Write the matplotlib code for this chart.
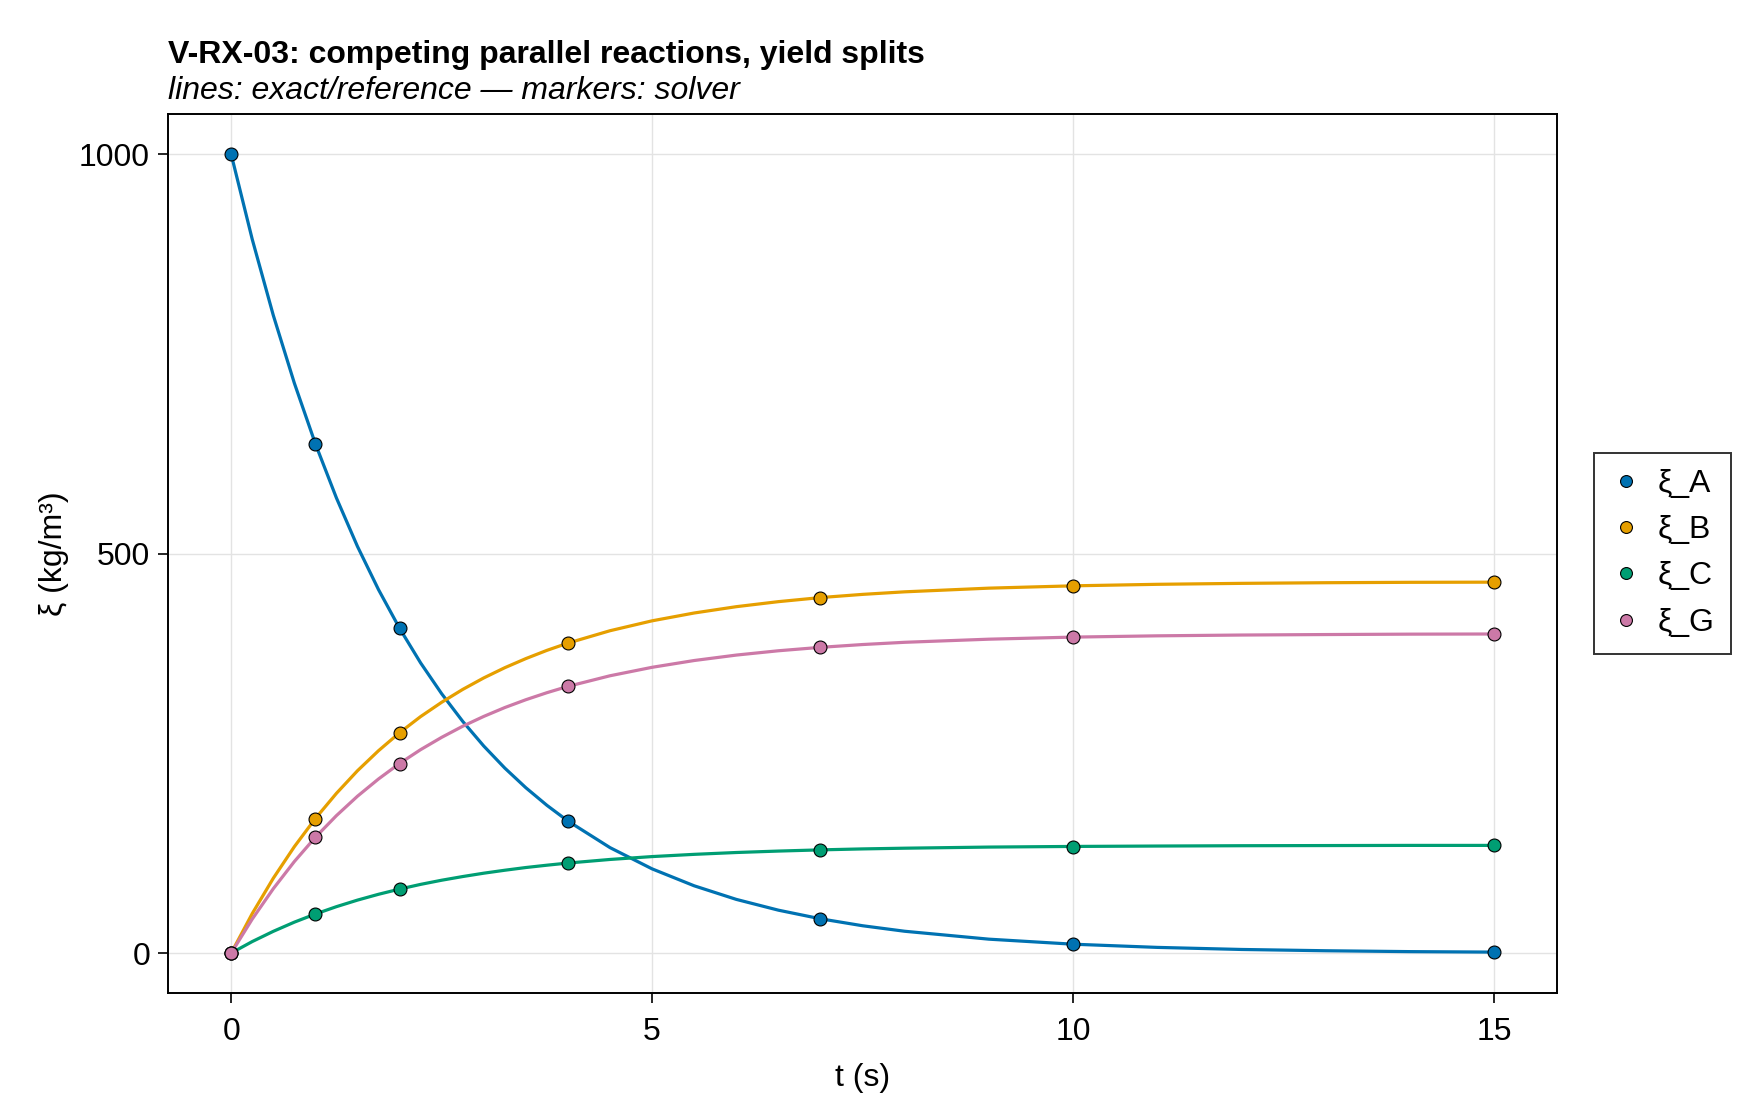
import matplotlib
matplotlib.use('Agg')
from matplotlib import pyplot as plt

###############################################################################
# Data #
t_line = [0, 0.25, 0.5, 0.75, 1, 1.25, 1.5, 1.75, 2, 2.25, 2.5, 2.75, 3, 3.25,
          3.5, 3.75, 4, 4.5, 5, 5.5, 6, 6.5, 7, 7.5, 8, 9, 10, 11, 12, 13, 14,
          15]
a_line = [1000, 893.6, 798.5, 713.6, 637.6, 569.8, 509.1, 455.0, 406.6, 363.3,
          324.7, 290.1, 259.2, 231.6, 207.0, 185.0, 165.3, 132.0, 105.4, 84.2,
          67.2, 53.7, 42.9, 34.2, 27.3, 17.4, 11.1, 7.1, 4.5, 2.9, 1.8, 1.2]
b_line = [0, 49.5, 93.7, 133.2, 168.5, 200.0, 228.3, 253.4, 275.9, 296.1,
          314.0, 330.1, 344.5, 357.3, 368.7, 379.0, 388.1, 403.6, 416.0, 425.8,
          433.7, 440.0, 445.1, 449.1, 452.3, 456.9, 459.8, 461.7, 462.9, 463.7,
          464.2, 464.4]
c_line = [0, 14.4, 27.2, 38.7, 48.9, 58.1, 66.3, 73.6, 80.1, 86.0, 91.2, 95.8,
          100.0, 103.7, 107.1, 110.0, 112.7, 117.2, 120.8, 123.6, 125.9, 127.7,
          129.2, 130.4, 131.3, 132.7, 133.5, 134.0, 134.4, 134.6, 134.8, 134.8]
g_line = [0, 42.6, 80.6, 114.6, 145.0, 172.1, 196.4, 218.0, 237.4, 254.7,
          270.1, 284.0, 296.3, 307.4, 317.2, 326.0, 333.9, 347.2, 357.8, 366.3,
          373.1, 378.5, 382.8, 386.3, 389.1, 393.0, 395.6, 397.2, 398.2, 398.8,
          399.3, 399.5]

t_pts = [0, 1, 2, 4, 7, 10, 15]
a_pts = [1000, 638, 407, 165, 43, 11, 1]
b_pts = [0, 168, 276, 388, 445, 460, 464]
c_pts = [0, 49, 80, 113, 129, 133, 135]
g_pts = [0, 145, 237, 334, 383, 396, 399]

labels = ['ξ_A', 'ξ_B', 'ξ_C', 'ξ_G']
colors = ['#0072B2', '#E69F00', '#009E73', '#CC79A7']

################################################################################
plt.rcParams['font.family'] = ['Liberation Sans', 'DejaVu Sans']
fs = 23

fig = plt.figure(figsize=(17.6, 11.2), dpi=100)
ax = fig.add_axes([0.0955, 0.1134, 0.7892, 0.7844])

lines = [a_line, b_line, c_line, g_line]
pts = [a_pts, b_pts, c_pts, g_pts]
for y, col in zip(lines, colors):
    ax.plot(t_line, y, color=col, lw=2.3, zorder=2)
for y, col, lab in zip(pts, colors, labels):
    ax.plot(t_pts, y, 'o', color=col, ms=9.3, mec='black', mew=0.8,
            label=lab, zorder=3)

ax.set_xlim(-0.75, 15.75)
ax.set_ylim(-50, 1050)
ax.set_xticks([0, 5, 10, 15])
ax.set_yticks([0, 500, 1000])
ax.grid(True, color='#e3e3e3', lw=1.0)
ax.set_axisbelow(True)
for s in ax.spines.values():
    s.set_linewidth(1.4)
ax.tick_params(labelsize=fs, length=7, width=1.2)
ax.tick_params(axis='x', pad=10)
ax.tick_params(axis='y', pad=6)

ax.set_xlabel('t (s)', fontsize=fs, labelpad=12)
ax.set_ylabel('ξ (kg/m³)', fontsize=fs, labelpad=7)

ax.text(0, 1.0586, 'V-RX-03: competing parallel reactions, yield splits',
        transform=ax.transAxes, fontsize=fs, fontweight='bold', ha='left',
        va='baseline')
ax.text(0, 1.0176, 'lines: exact/reference — markers: solver',
        transform=ax.transAxes, fontsize=fs, style='italic', ha='left',
        va='baseline')

leg = fig.legend(loc='center left', bbox_to_anchor=(0.9057, 0.506),
                 fontsize=fs, frameon=True, fancybox=False, handletextpad=0.5,
                 handlelength=1.0, borderpad=0.5, labelspacing=0.51,
                 borderaxespad=0, markerscale=0.92)
leg.get_frame().set_edgecolor('black')
leg.get_frame().set_linewidth(1.4)

fig.savefig('out.png', dpi=100)
